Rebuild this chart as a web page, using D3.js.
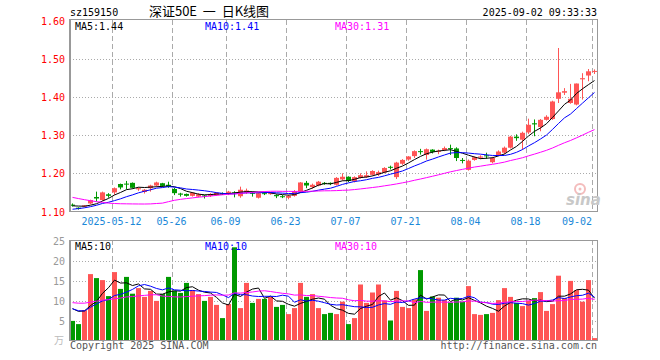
<!DOCTYPE html>
<html><head><meta charset="utf-8">
<script src="https://cdn.jsdelivr.net/npm/d3@7/dist/d3.min.js"></script>
<style>html,body{margin:0;padding:0;background:#fff} text.pre{white-space:pre}</style>
</head><body>
<svg id="chart" width="660" height="360"></svg>
<script>
// ---------------- data ----------------
const dates = ["2025-04-28","2025-04-29","2025-04-30","2025-05-06","2025-05-07","2025-05-08","2025-05-09","2025-05-12","2025-05-13","2025-05-14","2025-05-15","2025-05-16","2025-05-19","2025-05-20","2025-05-21","2025-05-22","2025-05-23","2025-05-26","2025-05-27","2025-05-28","2025-05-29","2025-05-30","2025-06-03","2025-06-04","2025-06-05","2025-06-06","2025-06-09","2025-06-10","2025-06-11","2025-06-12","2025-06-13","2025-06-16","2025-06-17","2025-06-18","2025-06-19","2025-06-20","2025-06-23","2025-06-24","2025-06-25","2025-06-26","2025-06-27","2025-06-30","2025-07-01","2025-07-02","2025-07-03","2025-07-04","2025-07-07","2025-07-08","2025-07-09","2025-07-10","2025-07-11","2025-07-14","2025-07-15","2025-07-16","2025-07-17","2025-07-18","2025-07-21","2025-07-22","2025-07-23","2025-07-24","2025-07-25","2025-07-28","2025-07-29","2025-07-30","2025-07-31","2025-08-01","2025-08-04","2025-08-05","2025-08-06","2025-08-07","2025-08-08","2025-08-11","2025-08-12","2025-08-13","2025-08-14","2025-08-15","2025-08-18","2025-08-19","2025-08-20","2025-08-21","2025-08-22","2025-08-25","2025-08-26","2025-08-27","2025-08-28","2025-08-29","2025-09-01","2025-09-02"];

const open  = [1.118,1.110,1.113,1.121,1.138,1.130,1.145,1.150,1.172,1.173,1.175,1.158,1.151,1.161,1.168,1.174,1.170,1.159,1.147,1.146,1.141,1.139,1.142,1.141,1.143,1.148,1.146,1.150,1.140,1.150,1.149,1.136,1.148,1.147,1.143,1.140,1.136,1.141,1.152,1.175,1.164,1.168,1.175,1.175,1.170,1.184,1.191,1.179,1.188,1.190,1.196,1.197,1.202,1.217,1.190,1.225,1.236,1.245,1.258,1.248,1.262,1.256,1.261,1.266,1.265,1.235,1.209,1.235,1.241,1.247,1.229,1.248,1.254,1.267,1.296,1.288,1.307,1.331,1.321,1.340,1.342,1.395,1.411,1.384,1.380,1.446,1.456,1.466];
const high  = [1.121,1.111,1.117,1.131,1.152,1.152,1.148,1.163,1.173,1.180,1.176,1.163,1.159,1.170,1.178,1.175,1.178,1.162,1.149,1.147,1.151,1.148,1.143,1.148,1.150,1.150,1.154,1.153,1.165,1.160,1.152,1.149,1.150,1.151,1.145,1.143,1.144,1.156,1.177,1.180,1.173,1.180,1.177,1.176,1.190,1.200,1.192,1.192,1.200,1.205,1.208,1.207,1.216,1.220,1.230,1.237,1.245,1.260,1.264,1.265,1.263,1.262,1.270,1.275,1.268,1.240,1.236,1.244,1.247,1.254,1.243,1.260,1.270,1.298,1.302,1.309,1.343,1.341,1.342,1.352,1.390,1.528,1.423,1.434,1.435,1.462,1.473,1.472];
const low   = [1.113,1.105,1.111,1.119,1.126,1.128,1.136,1.144,1.158,1.158,1.160,1.154,1.147,1.152,1.165,1.164,1.162,1.143,1.139,1.139,1.139,1.137,1.134,1.138,1.141,1.144,1.143,1.137,1.136,1.146,1.139,1.134,1.143,1.144,1.135,1.135,1.132,1.139,1.150,1.161,1.160,1.166,1.170,1.169,1.168,1.181,1.177,1.176,1.186,1.188,1.194,1.193,1.200,1.210,1.185,1.222,1.233,1.240,1.249,1.236,1.252,1.250,1.258,1.248,1.232,1.226,1.207,1.233,1.237,1.238,1.226,1.245,1.250,1.265,1.285,1.262,1.303,1.297,1.310,1.338,1.340,1.384,1.405,1.382,1.378,1.393,1.441,1.460];
const close = [1.115,1.107,1.116,1.130,1.134,1.150,1.141,1.161,1.163,1.171,1.162,1.161,1.157,1.168,1.176,1.167,1.165,1.148,1.144,1.141,1.149,1.145,1.140,1.146,1.149,1.147,1.152,1.149,1.157,1.155,1.147,1.148,1.146,1.148,1.140,1.139,1.141,1.153,1.176,1.168,1.170,1.178,1.173,1.172,1.188,1.191,1.180,1.190,1.195,1.195,1.206,1.203,1.214,1.215,1.228,1.235,1.244,1.258,1.256,1.263,1.256,1.259,1.266,1.265,1.240,1.233,1.233,1.242,1.244,1.245,1.240,1.257,1.267,1.296,1.292,1.306,1.327,1.328,1.340,1.348,1.388,1.412,1.415,1.395,1.435,1.449,1.467,1.468];
// volume, 万手
const volume = [4.9,4.1,7.6,16.6,15.6,15.1,11.1,17.1,12.9,15.9,11.7,13.1,10.9,12.4,9.9,11.6,15.9,12.4,11.9,14.4,12.6,11.6,9.9,10.9,8.9,5.6,9.1,23.3,8.1,14.4,9.4,10.4,10.4,10.9,8.4,8.9,6.6,8.1,14.4,10.9,11.6,8.1,6.6,6.9,6.6,9.7,4.1,5.6,14.0,9.4,12.0,14.0,10.0,5.0,12.4,8.4,8.1,10.3,17.6,7.4,11.0,10.7,10.1,9.5,10.7,9.7,13.6,6.6,6.4,6.6,6.9,10.1,13.1,10.9,9.4,8.6,9.9,10.6,12.1,7.4,9.1,16.2,10.6,14.9,12.6,9.7,15.1,0.6];
// 29 sessions before the first shown day (estimated, only used to seed the moving averages)
const priorClose = [1.200,1.205,1.210,1.208,1.202,1.205,1.190,1.182,1.178,1.170,1.165,1.160,1.158,1.145,1.137,1.050,1.040,1.070,1.080,1.095,1.090,1.095,1.100,1.098,1.102,1.110,1.118,1.116,1.115];
const priorVolume = [8,7.5,9,8.5,7,8,9.5,8,7.5,9,8,7,8.5,9,22,18,16,13,11,10,9,8,7.5,7,8,7.5,7,10,10.4];

const priceTicks = [1.10,1.20,1.30,1.40,1.50,1.60];
const volumeTicks = [5,10,15,20,25];
const dateTicks = ["2025-05-12","2025-05-26","2025-06-09","2025-06-23","2025-07-07","2025-07-21","2025-08-04","2025-08-18","2025-09-02"];
const maPeriods = [5,10,30];
const maColors = ["#000000","#0000ff","#ff00ff"];

// ---------------- layout ----------------
const svg = d3.select("#chart");
const L = 70, R = 597;
const mono = "'DejaVu Sans Mono', 'Liberation Mono', monospace";
const UP = "#ff5555", DOWN = "#009900";

const x = d3.scaleBand().domain(dates).range([L, R]).paddingInner(1/6).paddingOuter(0);
const bw = x.bandwidth();
const cx = d => x(d) + bw / 2;
const yP = d3.scaleLinear().domain([1.1, 1.6]).range([211.5, 20.5]);
const yV = d3.scaleLinear().domain([0, 25]).range([340.5, 240.5]);

function movingAvg(prior, vals, n) {
  const all = prior.concat(vals);
  const off = prior.length;
  return vals.map((_, i) => d3.mean(all.slice(off + i - n + 1, off + i + 1)));
}
const priceMA = maPeriods.map(n => movingAvg(priorClose, close, n));
const volMA = maPeriods.map(n => movingAvg(priorVolume, volume, n));

// ---------------- grids ----------------
const grid = svg.append("g");
grid.selectAll(".hp").data(priceTicks.slice(1, 5)).join("line")
  .attr("x1", L).attr("x2", R).attr("y1", d => Math.round(yP(d)) + 0.5).attr("y2", d => Math.round(yP(d)) + 0.5)
  .attr("stroke", "#aaa").attr("stroke-dasharray", "1,2");
grid.selectAll(".hv").data(volumeTicks.slice(0, 4)).join("line")
  .attr("x1", L).attr("x2", R).attr("y1", d => Math.round(yV(d)) + 0.5).attr("y2", d => Math.round(yV(d)) + 0.5)
  .attr("stroke", "#aaa").attr("stroke-dasharray", "1,2");
[[20, 211], [240, 340]].forEach(([t, b]) => {
  grid.append("g").selectAll("line").data(dateTicks).join("line")
    .attr("x1", d => x(d) + 0.5).attr("x2", d => x(d) + 0.5)
    .attr("y1", t).attr("y2", b)
    .attr("stroke", "#aaa").attr("stroke-dasharray", "5,3");
});

// ---------------- candles ----------------
const idx = d3.range(dates.length);
const cg = svg.append("g");
cg.selectAll("line").data(idx).join("line")
  .attr("x1", i => Math.floor(cx(dates[i])) + 0.5).attr("x2", i => Math.floor(cx(dates[i])) + 0.5)
  .attr("y1", i => yP(high[i])).attr("y2", i => yP(low[i]))
  .attr("stroke", i => close[i] >= open[i] ? UP : DOWN).attr("stroke-width", 1);
cg.selectAll("rect").data(idx).join("rect")
  .attr("x", i => x(dates[i])).attr("width", bw)
  .attr("y", i => Math.min(yP(open[i]), yP(close[i])))
  .attr("height", i => Math.max(1, Math.abs(yP(open[i]) - yP(close[i]))))
  .attr("fill", i => close[i] >= open[i] ? UP : DOWN);

// ---------------- volume bars ----------------
svg.append("g").selectAll("rect").data(idx).join("rect")
  .attr("x", i => x(dates[i])).attr("width", bw)
  .attr("y", i => yV(volume[i])).attr("height", i => yV(0) - yV(volume[i]))
  .attr("fill", i => close[i] >= open[i] ? UP : DOWN);

// ---------------- MA lines ----------------
const lineP = d3.line().x((v, i) => cx(dates[i])).y(v => yP(v));
const lineV = d3.line().x((v, i) => cx(dates[i])).y(v => yV(v));
priceMA.forEach((arr, k) => svg.append("path").attr("d", lineP(arr)).attr("fill", "none").attr("stroke", maColors[k]).attr("stroke-width", 1));
volMA.forEach((arr, k) => svg.append("path").attr("d", lineV(arr)).attr("fill", "none").attr("stroke", maColors[k]).attr("stroke-width", 1));

// ---------------- frames ----------------
const fr = svg.append("g").attr("fill", "none").attr("stroke", "#999");
fr.append("rect").attr("x", 69.5).attr("y", 19.5).attr("width", R - 69).attr("height", 192);
fr.append("rect").attr("x", 69.5).attr("y", 240.5).attr("width", R - 69).attr("height", 100);
fr.append("line").attr("x1", 70.5).attr("x2", 70.5).attr("y1", 19.5).attr("y2", 211.5);
fr.append("line").attr("x1", 70.5).attr("x2", 70.5).attr("y1", 240.5).attr("y2", 340.5);

// ---------------- text ----------------
const T = (sx, sy, s, fill, anchor, size, fam) => svg.append("text")
  .attr("x", sx).attr("y", sy).text(s).attr("fill", fill)
  .attr("text-anchor", anchor || "start").attr("font-size", size || 10)
  .attr("font-family", fam || mono);

T(70, 16, "sz159150", "#000");
T(209, 16, "深证50E  一  日K线图", "#000", "middle", 13, "'Noto Sans CJK SC', sans-serif").attr("class", "pre");
T(597, 16, "2025-09-02 09:33:33", "#000", "end");

const last = dates.length - 1;
T(75, 30, "MA5:" + priceMA[0][last].toFixed(2), maColors[0]);
T(205, 30, "MA10:" + priceMA[1][last].toFixed(2), maColors[1]);
T(335, 30, "MA30:" + priceMA[2][last].toFixed(2), maColors[2]);
T(75, 250, "MA5:" + Math.floor(volMA[0][last]), maColors[0]);
T(205, 250, "MA10:" + Math.floor(volMA[1][last]), maColors[1]);
T(335, 250, "MA30:" + Math.floor(volMA[2][last]), maColors[2]);

svg.append("g").selectAll("text").data(priceTicks).join("text")
  .attr("x", 65).attr("y", d => yP(d) + 4).text(d => d.toFixed(2))
  .attr("fill", "#f00").attr("text-anchor", "end").attr("font-size", 10).attr("font-family", mono);
svg.append("g").selectAll("text").data(volumeTicks).join("text")
  .attr("x", 65).attr("y", d => yV(d) + 4).text(d => d)
  .attr("fill", "#999").attr("text-anchor", "end").attr("font-size", 10).attr("font-family", mono);
svg.append("g").selectAll("text").data(dateTicks).join("text")
  .attr("x", (d, i) => i === dateTicks.length - 1 ? x(d) : x(d) - 0.5)
  .attr("y", 225)
  .text((d, i) => i === 0 ? d : d.slice(5))
  .attr("fill", "#1a88d8").attr("font-size", 10).attr("font-family", mono)
  .attr("text-anchor", (d, i) => i === dateTicks.length - 1 ? "end" : "middle");

T(64, 344, "万", "#bbb", "end", 10, "'Noto Sans CJK SC', sans-serif");
T(70, 349, "Copyright 2025 SINA.COM", "#555");
T(597, 349, "http://finance.sina.com.cn", "#555", "end");

// sina watermark
const wm = svg.append("g").attr("opacity", 0.9);
wm.append("circle").attr("cx", 580).attr("cy", 189).attr("r", 5).attr("fill", "none").attr("stroke", "#f3b5b5").attr("stroke-width", 2);
wm.append("circle").attr("cx", 580).attr("cy", 189).attr("r", 1.5).attr("fill", "#f3b5b5");
T(566, 205, "sina", "#c8c8c8", "start", 15, "'DejaVu Sans', sans-serif").attr("font-weight", "bold").attr("font-style", "italic");
</script>
</body></html>
